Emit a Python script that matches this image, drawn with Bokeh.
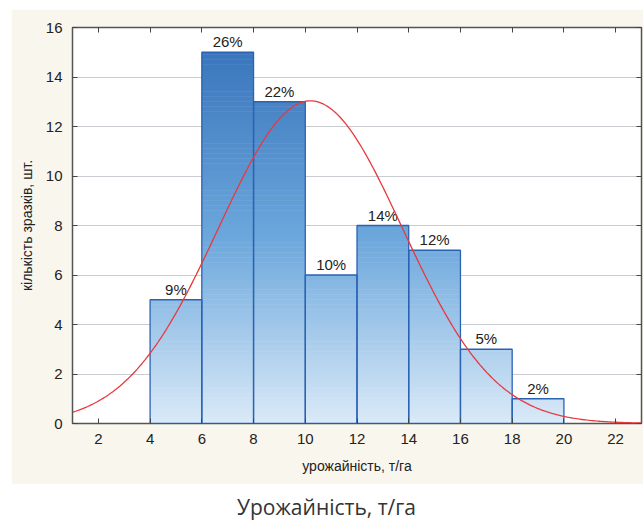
import numpy as np
from bokeh.plotting import figure
from bokeh.models import LinearAxis, FixedTicker, Div, ColumnDataSource, Range1d
from bokeh.layouts import column
from bokeh.core.properties import value
from bokeh.embed import file_html
from bokeh.resources import INLINE

# ---- data ----
bin_left = [4, 6, 8, 10, 12, 14, 16, 18]
bin_right = [6, 8, 10, 12, 14, 16, 18, 20]
counts = [5, 15, 13, 6, 8, 7, 3, 1]
pct_labels = ["9%", "26%", "22%", "10%", "14%", "12%", "5%", "2%"]
x_ticks = [2, 4, 6, 8, 10, 12, 14, 16, 18, 20, 22]
y_ticks = [0, 2, 4, 6, 8, 10, 12, 14, 16]
# fitted normal curve parameters
fit_mean = 10.2
fit_sd = 3.55
bin_width = 2

CREAM = "#f9f6ee"
FONT = "Liberation Sans"

p = figure(width=632, height=475, output_backend="svg", toolbar_location=None,
           x_range=Range1d(1, 23), y_range=Range1d(0, 16),
           min_border_left=61, min_border_right=2, min_border_top=18, min_border_bottom=61,
           background_fill_color="white", border_fill_color=CREAM,
           outline_line_color="#555555", outline_line_width=1.5)
p.margin = (9, 0, 0, 11)

# gradient bars: slices coloured by absolute height (3 colour stops)
stops_y = [0.0, 7.5, 15.0]
stops_c = np.array([[0xda, 0xea, 0xf8], [0x6c, 0xa7, 0xdc], [0x3a, 0x76, 0xbc]], dtype=float)
step = 0.1
ql, qr, qb, qt, qc = [], [], [], [], []
for l, r, c in zip(bin_left, bin_right, counts):
    n = int(round(c / step))
    for k in range(n):
        b = k * step
        t = min(c, b + step)
        m = (b + t) / 2
        col = [np.interp(m, stops_y, stops_c[:, j]) for j in range(3)]
        ql.append(l); qr.append(r); qb.append(b); qt.append(t + 0.02 if t < c else t)
        qc.append("#%02x%02x%02x" % tuple(int(round(v)) for v in col))
p.quad(left=ql, right=qr, bottom=qb, top=qt, fill_color=qc, line_color=None)

# bar outlines
p.quad(left=bin_left, right=bin_right, bottom=0, top=counts,
       fill_color=None, line_color="#2a62b4", line_width=1.3)

# percentage labels
src = ColumnDataSource(dict(x=[(a + b) / 2 for a, b in zip(bin_left, bin_right)],
                            y=counts, t=pct_labels))
p.text(x="x", y="y", text="t", source=src, text_align="center", text_baseline="bottom",
       y_offset=-2, text_font_size="15px", text_color="#222222", text_font=value(FONT))

# fitted normal curve
n_total = sum(counts)
xs = np.linspace(1, 23, 300)
ys = n_total * bin_width / (fit_sd * np.sqrt(2 * np.pi)) * np.exp(-0.5 * ((xs - fit_mean) / fit_sd) ** 2)
p.line(xs, ys, line_color="#e8393f", line_width=1.3)

# axes
for ax in p.xaxis + p.yaxis:
    ax.axis_line_color = "#555555"
    ax.major_tick_in = 5
    ax.major_tick_out = 0
    ax.minor_tick_line_color = None
    ax.major_tick_line_color = "#444444"
    ax.major_label_text_font = FONT
    ax.major_label_text_font_size = "15px"
    ax.major_label_text_color = "#222222"
    ax.major_label_standoff = 10
    ax.axis_label_text_font = FONT
    ax.axis_label_text_font_size = "14px"
    ax.axis_label_text_font_style = "normal"
    ax.axis_label_text_color = "#222222"
    ax.axis_label_standoff = 8

p.xaxis.axis_label_standoff = 11
p.xaxis.ticker = FixedTicker(ticks=x_ticks)
p.yaxis.ticker = FixedTicker(ticks=y_ticks)
p.xaxis.axis_label = "урожайність, т/га"
p.yaxis.axis_label = "кількість зразків, шт."

for loc, tk in (("above", x_ticks), ("right", y_ticks)):
    a = LinearAxis(ticker=FixedTicker(ticks=tk), major_label_text_color=None,
                   major_tick_in=5, major_tick_out=0, minor_tick_line_color=None,
                   axis_line_color="#555555", major_tick_line_color="#444444",
                   major_label_standoff=0)
    p.add_layout(a, loc)

p.xgrid.grid_line_color = None
p.ygrid.ticker = FixedTicker(ticks=y_ticks)
p.ygrid.grid_line_color = "#c9cdd2"
p.ygrid.grid_line_width = 1.2

caption = Div(text="Урожайність, т/га", width=643, height=40,
              styles={"font-family": "Open Sans", "font-size": "21px", "color": "#333333",
                      "text-align": "center", "width": "643px", "padding-top": "4px",
                      "line-height": "28px"})

layout = column(p, caption, spacing=0)
open("out.html", "w").write(file_html(layout, INLINE))
